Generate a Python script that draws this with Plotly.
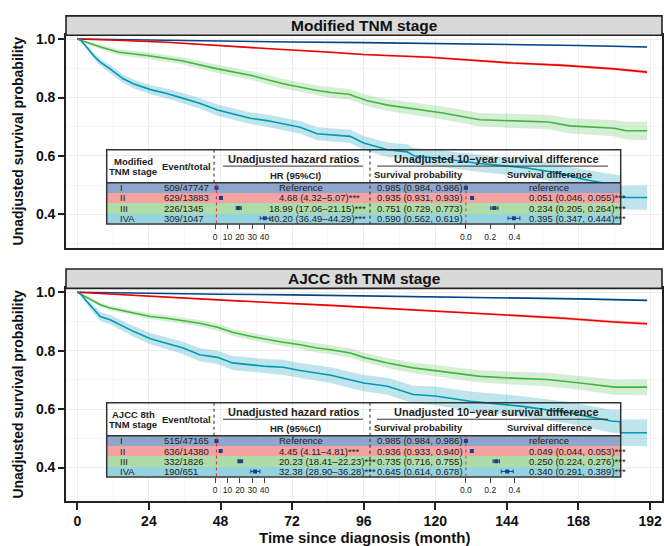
import plotly.graph_objects as go

# ---------------- data ----------------
stages = ["I", "II", "III", "IVA"]

# Modified TNM stage - Kaplan-Meier estimates (month, survival, 95% band)
mod_t_I = [0, 24, 48, 72, 96, 120, 144, 168, 191]
mod_s_I = [1.0, 0.996, 0.993, 0.990, 0.988, 0.985, 0.982, 0.978, 0.973]
mod_lo_I = [1.0, 0.9955, 0.9923, 0.9890, 0.9868, 0.9838, 0.9805, 0.9760, 0.9705]
mod_hi_I = [1.0, 0.9965, 0.9937, 0.9910, 0.9892, 0.9862, 0.9835, 0.9800, 0.9755]

mod_t_II = [0, 11, 30, 48, 66, 85, 96, 118, 135, 146, 163, 180, 191]
mod_s_II = [1.0, 0.997, 0.989, 0.977, 0.966, 0.955, 0.947, 0.938, 0.926, 0.918, 0.910, 0.898, 0.887]
mod_lo_II = [1.0, 0.996, 0.987, 0.975, 0.963, 0.952, 0.944, 0.934, 0.922, 0.914, 0.905, 0.893, 0.881]
mod_hi_II = [1.0, 0.998, 0.991, 0.979, 0.969, 0.958, 0.950, 0.942, 0.930, 0.922, 0.915, 0.903, 0.893]

mod_t_III = [0, 4, 8, 14, 24, 35, 47, 58, 69, 80, 85, 91, 97, 104, 116, 122, 135, 152, 158, 165, 180, 184, 191]
mod_s_III = [1.0, 0.985, 0.972, 0.955, 0.943, 0.926, 0.898, 0.876, 0.847, 0.825, 0.817, 0.811, 0.790, 0.774,
             0.757, 0.748, 0.724, 0.718, 0.716, 0.703, 0.695, 0.686, 0.686]
mod_lo_III = [1.0, 0.979, 0.964, 0.945, 0.932, 0.914, 0.884, 0.861, 0.831, 0.808, 0.799, 0.793, 0.771, 0.754,
              0.736, 0.726, 0.701, 0.694, 0.691, 0.677, 0.667, 0.656, 0.654]
mod_hi_III = [1.0, 0.991, 0.980, 0.965, 0.954, 0.938, 0.912, 0.891, 0.863, 0.842, 0.835, 0.829, 0.809, 0.794,
              0.778, 0.770, 0.747, 0.742, 0.741, 0.729, 0.723, 0.716, 0.718]

mod_t_IVA = [0, 1, 3.2, 5.5, 7.7, 11, 15.4, 18.8, 24.5, 30, 35.5, 41, 47, 52.3, 58, 63.5, 69, 74.7, 80.4, 85,
             91.5, 96, 104, 110.6, 113, 120.6, 135, 150.8, 161, 169.6, 182, 182.1, 191]
mod_s_IVA = [1.0, 0.997, 0.972, 0.943, 0.921, 0.898, 0.864, 0.847, 0.827, 0.814, 0.797, 0.780, 0.757, 0.743,
             0.729, 0.721, 0.710, 0.698, 0.676, 0.672, 0.667, 0.644, 0.621, 0.614, 0.600, 0.593, 0.574, 0.559,
             0.542, 0.520, 0.497, 0.458, 0.458]
mod_lo_IVA = [1.0, 0.995, 0.964, 0.933, 0.909, 0.885, 0.850, 0.832, 0.811, 0.797, 0.779, 0.762, 0.738, 0.723,
              0.709, 0.700, 0.689, 0.676, 0.654, 0.649, 0.644, 0.620, 0.596, 0.588, 0.573, 0.565, 0.545, 0.529,
              0.510, 0.486, 0.461, 0.418, 0.416]
mod_hi_IVA = [1.0, 0.999, 0.980, 0.953, 0.933, 0.911, 0.878, 0.862, 0.843, 0.831, 0.815, 0.798, 0.776, 0.763,
              0.749, 0.742, 0.731, 0.720, 0.698, 0.695, 0.690, 0.668, 0.646, 0.640, 0.627, 0.621, 0.603, 0.589,
              0.574, 0.554, 0.533, 0.498, 0.500]

# AJCC 8th TNM stage - Kaplan-Meier estimates
ajcc_t_I = [0, 24, 48, 72, 96, 120, 144, 168, 191]
ajcc_s_I = [1.0, 0.996, 0.993, 0.991, 0.988, 0.985, 0.982, 0.977, 0.972]
ajcc_lo_I = [1.0, 0.9955, 0.9923, 0.9898, 0.9866, 0.9838, 0.9805, 0.9750, 0.9695]
ajcc_hi_I = [1.0, 0.9965, 0.9937, 0.9922, 0.9894, 0.9862, 0.9835, 0.9790, 0.9745]

ajcc_t_II = [0, 11, 30, 52, 85, 118, 141, 163, 180, 191]
ajcc_s_II = [1.0, 0.994, 0.982, 0.971, 0.955, 0.937, 0.925, 0.911, 0.898, 0.892]
ajcc_lo_II = [1.0, 0.993, 0.980, 0.969, 0.952, 0.934, 0.921, 0.906, 0.893, 0.886]
ajcc_hi_II = [1.0, 0.995, 0.984, 0.973, 0.958, 0.940, 0.929, 0.916, 0.903, 0.898]

ajcc_t_III = [0, 4, 7.7, 11, 18.8, 24.5, 30, 35.5, 41, 47, 52, 58, 63.5, 69, 74.7, 80.4, 85, 91.5, 96, 104,
              112.6, 124, 135, 146, 157.5, 168.6, 180, 191]
ajcc_s_III = [1.0, 0.978, 0.957, 0.946, 0.928, 0.917, 0.911, 0.903, 0.894, 0.880, 0.863, 0.849, 0.838, 0.829,
              0.820, 0.809, 0.803, 0.792, 0.777, 0.758, 0.741, 0.727, 0.712, 0.706, 0.701, 0.689, 0.675, 0.675]
ajcc_lo_III = [1.0, 0.973, 0.950, 0.938, 0.919, 0.907, 0.901, 0.892, 0.883, 0.868, 0.851, 0.836, 0.825, 0.815,
               0.806, 0.794, 0.788, 0.776, 0.761, 0.741, 0.723, 0.707, 0.691, 0.684, 0.678, 0.665, 0.649, 0.648]
ajcc_hi_III = [1.0, 0.983, 0.964, 0.954, 0.937, 0.927, 0.921, 0.914, 0.905, 0.892, 0.875, 0.862, 0.851, 0.843,
               0.834, 0.824, 0.818, 0.808, 0.793, 0.775, 0.759, 0.747, 0.733, 0.728, 0.724, 0.713, 0.701, 0.702]

ajcc_t_IVA = [0, 1, 3.2, 5.5, 7.7, 11, 15.4, 18.8, 24.5, 30, 35.5, 41, 47, 52, 63.5, 69, 74.7, 85, 96, 104,
              112.6, 120, 131.7, 148.5, 165, 179, 182, 182.1, 191]
ajcc_s_IVA = [1.0, 0.995, 0.968, 0.940, 0.917, 0.906, 0.883, 0.866, 0.841, 0.826, 0.809, 0.786, 0.777, 0.758,
              0.746, 0.743, 0.732, 0.716, 0.689, 0.678, 0.650, 0.645, 0.627, 0.610, 0.587, 0.559, 0.557, 0.519,
              0.519]
ajcc_lo_IVA = [1.0, 0.992, 0.958, 0.927, 0.902, 0.890, 0.866, 0.848, 0.822, 0.806, 0.788, 0.764, 0.754, 0.734,
               0.721, 0.717, 0.706, 0.689, 0.661, 0.649, 0.620, 0.613, 0.594, 0.575, 0.550, 0.520, 0.517, 0.474,
               0.473]
ajcc_hi_IVA = [1.0, 0.998, 0.978, 0.953, 0.932, 0.922, 0.900, 0.884, 0.860, 0.846, 0.830, 0.808, 0.800, 0.782,
               0.771, 0.769, 0.758, 0.743, 0.717, 0.707, 0.680, 0.677, 0.660, 0.645, 0.624, 0.598, 0.597, 0.564,
               0.565]

# Table contents - Modified TNM stage
mod_events = ["509/47747", "629/13883", "226/1345", "309/1047"]
mod_hr = [1.0, 4.68, 18.99, 40.20]
mod_hr_lo = [1.0, 4.32, 17.06, 36.49]
mod_hr_hi = [1.0, 5.07, 21.15, 44.29]
mod_hr_text = ["Reference", "4.68 (4.32–5.07)***", "18.99 (17.06–21.15)***", "40.20 (36.49–44.29)***"]
mod_surv_text = ["0.985 (0.984, 0.986)", "0.935 (0.931, 0.939)", "0.751 (0.729, 0.773)", "0.590 (0.562, 0.619)"]
mod_sd = [0.0, 0.051, 0.234, 0.395]
mod_sd_lo = [0.0, 0.046, 0.205, 0.347]
mod_sd_hi = [0.0, 0.055, 0.264, 0.444]
mod_sd_text = ["reference", "0.051 (0.046, 0.055)***", "0.234 (0.205, 0.264)***", "0.395 (0.347, 0.444)***"]

# Table contents - AJCC 8th TNM stage
ajcc_events = ["515/47165", "636/14380", "332/1826", "190/651"]
ajcc_hr = [1.0, 4.45, 20.23, 32.38]
ajcc_hr_lo = [1.0, 4.11, 18.41, 28.90]
ajcc_hr_hi = [1.0, 4.81, 22.23, 36.28]
ajcc_hr_text = ["Reference", "4.45 (4.11–4.81)***", "20.23 (18.41–22.23)***", "32.38 (28.90–36.28)***"]
ajcc_surv_text = ["0.985 (0.984, 0.986)", "0.936 (0.933, 0.940)", "0.735 (0.716, 0.755)", "0.645 (0.614, 0.678)"]
ajcc_sd = [0.0, 0.049, 0.250, 0.340]
ajcc_sd_lo = [0.0, 0.044, 0.224, 0.291]
ajcc_sd_hi = [0.0, 0.053, 0.276, 0.389]
ajcc_sd_text = ["reference", "0.049 (0.044, 0.053)***", "0.250 (0.224, 0.276)***", "0.340 (0.291, 0.389)***"]

x_ticks = [0, 24, 48, 72, 96, 120, 144, 168, 192]
y_ticks = [0.4, 0.6, 0.8, 1.0]
hr_ticks = [0, 10, 20, 30, 40]
sd_ticks = [0.0, 0.2, 0.4]

# ---------------- styling / layout helpers ----------------
W, H = 664, 546
def fx(p):
    return p / W
def fy(p):
    return 1 - p / H

FONT = "Liberation Sans, Arial, sans-serif"
line_colors = ["#00468B", "#ED0000", "#42B540", "#0099B4"]
band_colors = ["rgba(0,70,139,0.22)", "rgba(237,0,0,0.22)", "rgba(66,181,64,0.22)", "rgba(0,153,180,0.25)"]
row_colors = ["#8EA6CB", "#F4A2A2", "#ADDCA8", "#96D3E1"]
navy = "#1F3C88"
dark = "#222222"

panels = [
    dict(title="Modified TNM stage", head1="Modified", dy=0,
         curves=[(mod_t_I, mod_s_I, mod_lo_I, mod_hi_I), (mod_t_II, mod_s_II, mod_lo_II, mod_hi_II),
                 (mod_t_III, mod_s_III, mod_lo_III, mod_hi_III), (mod_t_IVA, mod_s_IVA, mod_lo_IVA, mod_hi_IVA)],
         events=mod_events, hr=mod_hr, hr_lo=mod_hr_lo, hr_hi=mod_hr_hi, hr_text=mod_hr_text,
         surv_text=mod_surv_text, sd=mod_sd, sd_lo=mod_sd_lo, sd_hi=mod_sd_hi, sd_text=mod_sd_text,
         hr_left=[277, 277, 267, 267]),
    dict(title="AJCC 8th TNM stage", head1="AJCC 8th", dy=255,
         curves=[(ajcc_t_I, ajcc_s_I, ajcc_lo_I, ajcc_hi_I), (ajcc_t_II, ajcc_s_II, ajcc_lo_II, ajcc_hi_II),
                 (ajcc_t_III, ajcc_s_III, ajcc_lo_III, ajcc_hi_III),
                 (ajcc_t_IVA, ajcc_s_IVA, ajcc_lo_IVA, ajcc_hi_IVA)],
         events=ajcc_events, hr=ajcc_hr, hr_lo=ajcc_hr_lo, hr_hi=ajcc_hr_hi, hr_text=ajcc_hr_text,
         surv_text=ajcc_surv_text, sd=ajcc_sd, sd_lo=ajcc_sd_lo, sd_hi=ajcc_sd_hi, sd_text=ajcc_sd_text,
         hr_left=[277, 277, 277, 277]),
]

fig = go.Figure()
axes = {}
annotations = []
shapes = []


def ann(text, x, y, size, bold=False, xanchor="center", yref="paper", color=dark, angle=0):
    annotations.append(dict(text=text, x=x, y=y, xref="paper", yref=yref, xanchor=xanchor,
                            yanchor="middle", showarrow=False, textangle=angle,
                            font=dict(family=FONT, size=size, color=color,
                                      weight="bold" if bold else "normal")))


def hline(x0, x1, y, width=1, color=dark, dash="solid"):
    shapes.append(dict(type="line", xref="paper", yref="paper", x0=fx(x0), x1=fx(x1), y0=fy(y), y1=fy(y),
                       line=dict(color=color, width=width, dash=dash), layer="above"))


def vline(x, y0, y1, width=1, color=dark, dash="dot"):
    shapes.append(dict(type="line", xref="paper", yref="paper", x0=fx(x), x1=fx(x), y0=fy(y0), y1=fy(y1),
                       line=dict(color=color, width=width, dash=dash), layer="above"))


HR0, HR_SCALE = 215.2, 1.233      # px of HR=0, px per unit
SD0, SD_SCALE = 465.9, 121.5      # px of diff=0, px per unit

for k, p in enumerate(panels):
    dy = p["dy"]
    suf_m = "" if k == 0 else "2"
    mx, my = "x" + suf_m, "y" + suf_m
    tx, ty = f"x{3 + k}", f"y{3 + k}"
    hx, hy = f"x{5 + 2 * k}", f"y{5 + 2 * k}"
    sx, sy = f"x{6 + 2 * k}", f"y{6 + 2 * k}"

    # --- KM bands then lines ---
    for i, (t, s, lo, hi) in enumerate(p["curves"]):
        fig.add_trace(go.Scatter(x=t, y=lo, mode="lines", line=dict(width=0), xaxis=mx, yaxis=my,
                                 showlegend=False, hoverinfo="skip"))
        fig.add_trace(go.Scatter(x=t, y=hi, mode="lines", line=dict(width=0), fill="tonexty",
                                 fillcolor=band_colors[i], xaxis=mx, yaxis=my, showlegend=False,
                                 hoverinfo="skip"))
    for i, (t, s, lo, hi) in enumerate(p["curves"]):
        fig.add_trace(go.Scatter(x=t, y=s, mode="lines", name=stages[i],
                                 line=dict(color=line_colors[i], width=1.6),
                                 xaxis=mx, yaxis=my, showlegend=False))

    # --- table row backgrounds ---
    fig.add_trace(go.Bar(x=[1] * len(stages), y=stages, orientation="h", width=1,
                         marker=dict(color=row_colors, line=dict(width=0)),
                         xaxis=tx, yaxis=ty, showlegend=False, hoverinfo="skip"))

    # --- forest: hazard ratios ---
    fig.add_trace(go.Scatter(
        x=p["hr"], y=stages, mode="markers",
        marker=dict(symbol="square", size=4, color=navy),
        error_x=dict(type="data", symmetric=False,
                     array=[h - m for h, m in zip(p["hr_hi"], p["hr"])],
                     arrayminus=[m - l for m, l in zip(p["hr"], p["hr_lo"])],
                     thickness=1, width=2, color=navy),
        xaxis=hx, yaxis=hy, showlegend=False))
    # --- forest: survival differences ---
    fig.add_trace(go.Scatter(
        x=p["sd"], y=stages, mode="markers",
        marker=dict(symbol="square", size=4, color=navy),
        error_x=dict(type="data", symmetric=False,
                     array=[h - m for h, m in zip(p["sd_hi"], p["sd"])],
                     arrayminus=[m - l for m, l in zip(p["sd"], p["sd_lo"])],
                     thickness=1, width=2, color=navy),
        xaxis=sx, yaxis=sy, showlegend=False))

    main_top, main_bot = 31.5 + dy, 245.5 + dy
    row_top, row_bot = 180 + dy, 221 + dy
    tab_top, tab_bot = 146.7 + dy, 221.5 + dy

    axes["xaxis" + suf_m] = dict(
        domain=[fx(66), fx(662)], range=[-3.79, 196.0], anchor=my,
        tickvals=x_ticks, showticklabels=(k == 1), ticks="outside" if k == 1 else "",
        ticklen=7, tickwidth=2, tickcolor=dark,
        tickfont=dict(family=FONT, size=14, color="#111", weight="bold"),
        showline=True, mirror=True, linecolor=dark, linewidth=1.6,
        showgrid=True, gridcolor="#EDEDED", gridwidth=1, zeroline=False,
        minor=dict(tickvals=[12, 36, 60, 84, 108, 132, 156, 180], showgrid=True, gridcolor="#F6F6F6",
                   ticks=""))
    axes["yaxis" + suf_m] = dict(
        domain=[fy(main_bot), fy(main_top)], range=[0.286, 1.013], anchor=mx,
        tickvals=y_ticks, ticktext=[f"{v:.1f}" for v in y_ticks], ticks="outside",
        ticklen=6, tickwidth=2, tickcolor=dark,
        tickfont=dict(family=FONT, size=14, color="#111", weight="bold"),
        showline=True, mirror=True, linecolor=dark, linewidth=1.6,
        showgrid=True, gridcolor="#EDEDED", gridwidth=1, zeroline=False,
        minor=dict(tickvals=[0.3, 0.5, 0.7, 0.9], showgrid=True, gridcolor="#F6F6F6", ticks=""))

    row_axis = dict(domain=[fy(row_bot), fy(row_top)], type="category", categoryorder="array",
                    categoryarray=stages, range=[len(stages) - 0.5, -0.5], visible=False)
    axes[f"xaxis{3 + k}"] = dict(domain=[fx(106.7), fx(620.7)], range=[0, 1], anchor=ty, visible=False)
    axes[f"yaxis{3 + k}"] = dict(row_axis, anchor=tx)

    forest_x = dict(ticks="outside", ticklen=5, tickwidth=1, tickcolor="#444",
                    tickfont=dict(family=FONT, size=8.5, color=dark),
                    showgrid=False, zeroline=False, showline=False)
    axes[f"xaxis{5 + 2 * k}"] = dict(forest_x, domain=[fx(200), fx(280)],
                                     range=[(200 - HR0) / HR_SCALE, (280 - HR0) / HR_SCALE],
                                     tickvals=hr_ticks, anchor=hy)
    axes[f"yaxis{5 + 2 * k}"] = dict(row_axis, anchor=hx)
    axes[f"xaxis{6 + 2 * k}"] = dict(forest_x, domain=[fx(440), fx(545)],
                                     range=[(440 - SD0) / SD_SCALE, (545 - SD0) / SD_SCALE],
                                     tickvals=sd_ticks, ticktext=[f"{v:.1f}" for v in sd_ticks], anchor=sy)
    axes[f"yaxis{6 + 2 * k}"] = dict(row_axis, anchor=sx)

    # --- reference lines in forest columns ---
    shapes.append(dict(type="line", xref=hx, yref=f"{hy} domain", x0=1, x1=1, y0=0, y1=1,
                       line=dict(color="#E03030", width=1, dash="dot"), layer="above"))
    shapes.append(dict(type="line", xref=sx, yref=f"{sy} domain", x0=0, x1=0, y0=0, y1=1,
                       line=dict(color="#E03030", width=1, dash="dot"), layer="above"))

    # --- strip ---
    shapes.append(dict(type="rect", xref="paper", yref="paper", x0=fx(66), x1=fx(662),
                       y0=fy(31.5 + dy), y1=fy(12 + dy), fillcolor="#D9D9D9",
                       line=dict(color=dark, width=1.6), layer="above"))
    ann(p["title"], fx(364), fy(21.8 + dy), 15.5, bold=True, color="#111")

    # --- table frame ---
    shapes.append(dict(type="rect", xref="paper", yref="paper", x0=fx(106.7), x1=fx(620.7),
                       y0=fy(tab_bot), y1=fy(tab_top), line=dict(color="#333", width=1.5), layer="above"))
    hline(106.7, 620.7, row_top, width=1.5, color="#333")
    hline(223, 363, 163.3 + dy, width=1, color="#333")
    hline(377, 608, 163.3 + dy, width=1, color="#333")
    vline(214, tab_top, row_top)
    vline(370, tab_top, tab_bot)

    # --- table header ---
    ann(p["head1"], fx(133), fy(158.3 + dy), 9.5, bold=True)
    ann("TNM stage", fx(133), fy(168.3 + dy), 9.5, bold=True)
    ann("Event/total", fx(186), fy(164 + dy), 9.5, bold=True)
    ann("Unadjusted hazard ratios", fx(293), fy(155.7 + dy), 11, bold=True)
    ann("HR (95%CI)", fx(295), fy(172.7 + dy), 9.5, bold=True)
    ann("Unadjusted 10\u2212year survival difference", fx(496), fy(155.7 + dy), 11, bold=True)
    ann("Survival probability", fx(418.5), fy(171.7 + dy), 9.5, bold=True)
    ann("Survival difference", fx(549), fy(171.7 + dy), 9.5, bold=True)

    # --- table rows ---
    for i, st in enumerate(stages):
        ann(st, fx(118), st, 9.5, xanchor="left", yref=ty)
        ann(p["events"][i], fx(161.5), st, 9.5, xanchor="left", yref=ty)
        ann(p["hr_text"][i], fx(p["hr_left"][i]), st, 9.5, xanchor="left", yref=ty)
        ann(p["surv_text"][i], fx(374.5), st, 9.5, xanchor="left", yref=ty)
        ann(p["sd_text"][i], fx(526.5), st, 9.5, xanchor="left", yref=ty)

    # --- y axis title ---
    ann("Unadjusted survival probability", fx(18), fy((main_top + main_bot) / 2), 14, bold=True,
        color="#111", angle=-90)

ann("Time since diagnosis (month)", fx(364), fy(537), 15, bold=True, color="#111")

fig.update_layout(
    width=W, height=H, margin=dict(l=0, r=0, t=0, b=0),
    paper_bgcolor="white", plot_bgcolor="rgba(0,0,0,0)",
    showlegend=False, annotations=annotations, shapes=shapes,
    font=dict(family=FONT, color=dark), bargap=0,
    **axes)

# remove the default page margin so the figure sits at the window origin
fig.write_html("out.html", config={"displayModeBar": False},
               post_script="document.body.style.margin='0';document.body.style.overflow='hidden';")
